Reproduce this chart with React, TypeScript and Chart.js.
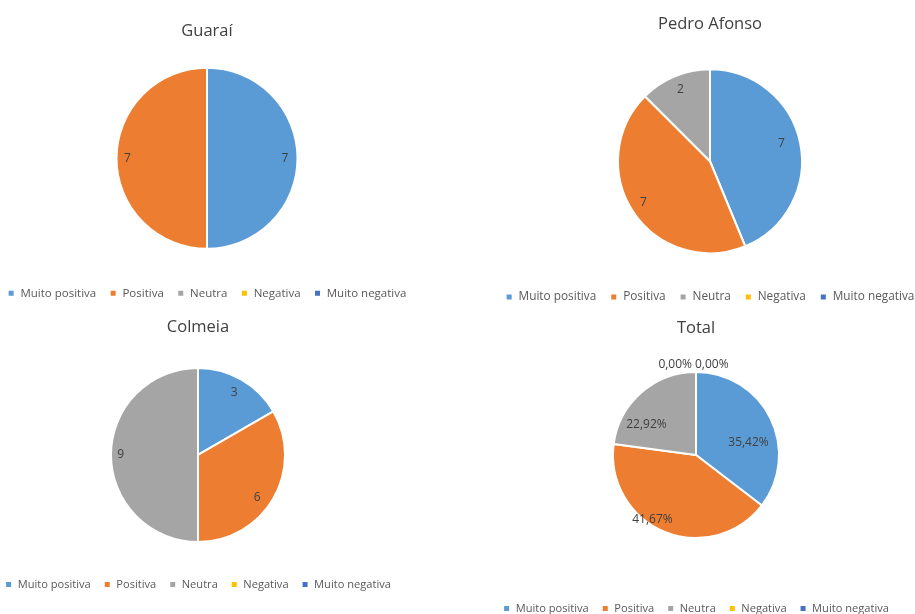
import React, { useEffect, useRef } from 'react';
import { Chart, registerables } from 'chart.js';

Chart.register(...registerables);

// ---------- data ----------
const categories = ['Muito positiva', 'Positiva', 'Neutra', 'Negativa', 'Muito negativa'];
const guaraiValues = [7, 7, 0, 0, 0];
const pedroAfonsoValues = [7, 7, 2, 0, 0];
const colmeiaValues = [3, 6, 9, 0, 0];
const totalValues = [17, 20, 11, 0, 0];
const chartTitles = ['Guaraí', 'Pedro Afonso', 'Colmeia', 'Total'];

// ---------- style ----------
const COLORS = ['#5B9BD5', '#ED7D31', '#A5A5A5', '#FFC000', '#4472C4'];
const FONT = '"Open Sans", "DejaVu Sans", sans-serif';
const TITLE_SIZE = 16.5;
const CANVAS_W = 460;

type Panel = {
  title: string;
  values: number[];
  percent: boolean;
  centerX: number;
  titleY: number;
  pieCY: number;
  radius: number;
  legendY: number;
  legendSize: number;
  legendPad: number;
  labelFrac: number[];
  labelShift: number[];
};

const PANELS: Panel[] = [
  {
    title: chartTitles[0], values: guaraiValues, percent: false,
    centerX: 207, titleY: 31, pieCY: 158.5, radius: 89.5, legendY: 293.5,
    legendSize: 11.5, legendPad: 13.5, labelFrac: [0.86, 0.88, 0.85, 0.85, 0.85], labelShift: [0, 0, 0, 0, 0],
  },
  {
    title: chartTitles[1], values: pedroAfonsoValues, percent: false,
    centerX: 710, titleY: 24, pieCY: 161.5, radius: 91, legendY: 297.5,
    legendSize: 11.8, legendPad: 14, labelFrac: [0.8, 0.85, 0.84, 0.85, 0.85], labelShift: [-3, 2, 0, 0, 0],
  },
  {
    title: chartTitles[2], values: colmeiaValues, percent: false,
    centerX: 198, titleY: 327, pieCY: 455, radius: 86, legendY: 584.5,
    legendSize: 11.1, legendPad: 13, labelFrac: [0.83, 0.84, 0.89, 0.85, 0.85], labelShift: [0, 6, 0, 0, 0],
  },
  {
    title: chartTitles[3], values: totalValues, percent: true,
    centerX: 696, titleY: 328, pieCY: 455, radius: 82, legendY: 608.5,
    legendSize: 11.1, legendPad: 13, labelFrac: [0.65, 0.94, 0.7, 0.85, 0.85], labelShift: [13, 11.4, -17.3, 0, 0],
  },
];

const fmtPct = (v: number, sum: number) => (sum ? (v / sum) * 100 : 0).toFixed(2).replace('.', ',') + '%';

const sliceLabelPlugin = {
  id: 'sliceLabels',
  afterDatasetsDraw(chart: any, _args: any, opts: any) {
    const meta = chart.getDatasetMeta(0);
    const data = chart.data.datasets[0].data as number[];
    const sum = data.reduce((a, b) => a + b, 0);
    const ctx = chart.ctx as CanvasRenderingContext2D;
    ctx.save();
    ctx.font = `12px ${FONT}`;
    ctx.fillStyle = '#404040';
    let zeroIdx = 0;
    meta.data.forEach((arc: any, i: number) => {
      const v = data[i];
      const p = arc.getProps(['x', 'y', 'startAngle', 'endAngle', 'outerRadius'], true);
      const text = opts.percent ? fmtPct(v, sum) : String(v);
      if (v === 0) {
        if (!opts.percent) return;
        ctx.textAlign = zeroIdx === 0 ? 'right' : 'left';
        ctx.textBaseline = 'middle';
        const px = p.x + Math.cos(p.startAngle) * p.outerRadius + (zeroIdx === 0 ? -4 : -1);
        const py = p.y + Math.sin(p.startAngle) * p.outerRadius - 7;
        ctx.fillText(text, px, py);
        zeroIdx++;
        return;
      }
      const mid = (p.startAngle + p.endAngle) / 2 + ((opts.shift[i] || 0) * Math.PI) / 180;
      const rr = p.outerRadius * opts.frac[i];
      ctx.textAlign = 'center';
      ctx.textBaseline = 'middle';
      ctx.fillText(text, p.x + Math.cos(mid) * rr, p.y + Math.sin(mid) * rr);
    });
    ctx.restore();
  },
};

function geometry(pn: Panel) {
  const lh = TITLE_SIZE * 1.2;
  const tt = 4;
  const top = pn.titleY - lh / 2 - tt;
  const bottom = pn.legendY + 10 + pn.legendSize / 2;
  const legendTop = pn.legendY - pn.legendPad - pn.legendSize / 2;
  const tb = 2 * pn.pieCY - legendTop - pn.titleY - lh / 2;
  return { top, height: bottom - top, tt, tb };
}

function PiePanel({ pn }: { pn: Panel }) {
  const ref = useRef<HTMLCanvasElement | null>(null);
  const g = geometry(pn);
  useEffect(() => {
    if (!ref.current) return;
    const chart = new Chart(ref.current, {
      type: 'pie',
      data: {
        labels: categories,
        datasets: [
          {
            data: pn.values,
            backgroundColor: COLORS,
            borderColor: '#ffffff',
            borderWidth: 2,
            radius: pn.radius + 1,
          } as any,
        ],
      },
      options: {
        responsive: false,
        animation: false,
        events: [],
        plugins: {
          title: {
            display: true,
            text: pn.title,
            color: '#404040',
            font: { family: FONT, size: TITLE_SIZE, weight: 'normal' },
            padding: { top: g.tt, bottom: g.tb },
          },
          legend: {
            display: true,
            position: 'bottom',
            labels: {
              boxWidth: 7,
              boxHeight: 7,
              padding: pn.legendPad,
              color: '#595959',
              font: { family: FONT, size: pn.legendSize },
            },
          },
          tooltip: { enabled: false },
          sliceLabels: { percent: pn.percent, frac: pn.labelFrac, shift: pn.labelShift },
        } as any,
      },
      plugins: [sliceLabelPlugin],
    });
    return () => chart.destroy();
  }, []);
  const h = Math.round(g.height);
  return (
    <canvas
      ref={ref}
      width={CANVAS_W}
      height={h}
      style={{ position: 'absolute', left: pn.centerX - CANVAS_W / 2, top: g.top, width: CANVAS_W, height: h }}
    />
  );
}

export default function App() {
  return (
    <div
      style={{
        position: 'fixed',
        left: 0,
        top: 0,
        width: 915,
        height: 614,
        overflow: 'hidden',
        background: '#ffffff',
      }}
    >
      {PANELS.map((pn, i) => (
        <PiePanel key={i} pn={pn} />
      ))}
    </div>
  );
}
